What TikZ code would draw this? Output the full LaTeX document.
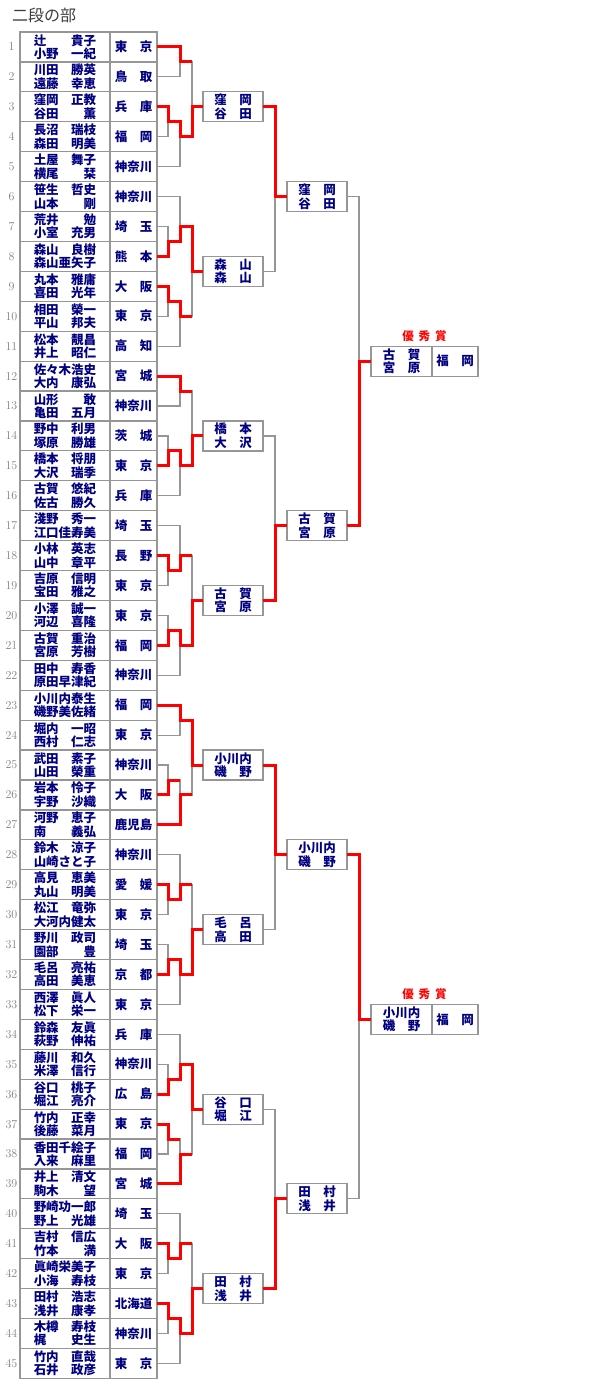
\documentclass[tikz,border=0pt]{standalone}
\usepackage{fontspec}
\newfontfamily\jp{Noto Sans CJK JP}
\usetikzlibrary{positioning,calc}
\definecolor{navy}{RGB}{0,0,128}
\definecolor{rule}{RGB}{150,150,150}
\definecolor{numgray}{RGB}{128,128,128}
\definecolor{win}{RGB}{255,0,0}

\begin{document}
\begin{tikzpicture}[x=1pt,y=-1pt,
  namecell/.style={draw=rule,line width=1.2pt,minimum width=90pt,minimum height=29.92pt,inner sep=0pt,outer sep=0pt,align=center,text=navy,font=\jp\bfseries\fontsize{12.5}{13.4}\selectfont},
  prefcell/.style={draw=rule,line width=1.2pt,minimum width=47pt,minimum height=29.92pt,inner sep=0pt,outer sep=0pt,text=navy,font=\jp\bfseries\fontsize{12.5}{13.4}\selectfont},
  numlab/.style={text=numgray,inner sep=0pt,font=\fontsize{12}{12}\selectfont},
  rbox/.style={draw=rule,line width=1.2pt,minimum width=60pt,minimum height=30pt,inner sep=0pt,outer sep=0pt,align=center,text=navy,font=\jp\bfseries\fontsize{12.5}{13.4}\selectfont},
  topbox/.style={rbox,minimum width=61pt},
  toppref/.style={rbox,minimum width=46pt},
  prize/.style={text=win,inner sep=0pt,font=\jp\bfseries\fontsize{11.5}{11.5}\selectfont},
  gline/.style={draw=rule,line width=1.2pt},
  rline/.style={draw=win,line width=3pt,line join=miter}]
\useasboundingbox (0,0) rectangle (600,1390);

\node[anchor=west,inner sep=0pt,text={rgb,255:red,60;green,60;blue,60},font=\jp\fontsize{16}{16}\selectfont] (title) at (12,15) {二段の部};

% entries
\node[namecell] (n1) at (65,46.96) {辻　　貴子\\小野　一紀}; \node[prefcell, right=0pt of n1] (p1) {東　京}; \node[numlab] (k1) at ($(n1.west)+(-8.5pt,0)$) {1};
\node[namecell, below=0pt of n1] (n2) {川田　勝英\\遠藤　幸恵}; \node[prefcell, right=0pt of n2] (p2) {鳥　取}; \node[numlab] (k2) at ($(n2.west)+(-8.5pt,0)$) {2};
\node[namecell, below=0pt of n2] (n3) {窪岡　正教\\谷田　　薫}; \node[prefcell, right=0pt of n3] (p3) {兵　庫}; \node[numlab] (k3) at ($(n3.west)+(-8.5pt,0)$) {3};
\node[namecell, below=0pt of n3] (n4) {長沼　瑞枝\\森田　明美}; \node[prefcell, right=0pt of n4] (p4) {福　岡}; \node[numlab] (k4) at ($(n4.west)+(-8.5pt,0)$) {4};
\node[namecell, below=0pt of n4] (n5) {土屋　舞子\\横尾　　栞}; \node[prefcell, right=0pt of n5] (p5) {神奈川}; \node[numlab] (k5) at ($(n5.west)+(-8.5pt,0)$) {5};
\node[namecell, below=0pt of n5] (n6) {笹生　哲史\\山本　　剛}; \node[prefcell, right=0pt of n6] (p6) {神奈川}; \node[numlab] (k6) at ($(n6.west)+(-8.5pt,0)$) {6};
\node[namecell, below=0pt of n6] (n7) {荒井　　勉\\小室　充男}; \node[prefcell, right=0pt of n7] (p7) {埼　玉}; \node[numlab] (k7) at ($(n7.west)+(-8.5pt,0)$) {7};
\node[namecell, below=0pt of n7] (n8) {森山　良樹\\森山亜矢子}; \node[prefcell, right=0pt of n8] (p8) {熊　本}; \node[numlab] (k8) at ($(n8.west)+(-8.5pt,0)$) {8};
\node[namecell, below=0pt of n8] (n9) {丸本　雅庸\\喜田　光年}; \node[prefcell, right=0pt of n9] (p9) {大　阪}; \node[numlab] (k9) at ($(n9.west)+(-8.5pt,0)$) {9};
\node[namecell, below=0pt of n9] (n10) {相田　榮一\\平山　邦夫}; \node[prefcell, right=0pt of n10] (p10) {東　京}; \node[numlab] (k10) at ($(n10.west)+(-8.5pt,0)$) {10};
\node[namecell, below=0pt of n10] (n11) {松本　靚昌\\井上　昭仁}; \node[prefcell, right=0pt of n11] (p11) {高　知}; \node[numlab] (k11) at ($(n11.west)+(-8.5pt,0)$) {11};
\node[namecell, below=0pt of n11] (n12) {佐々木浩史\\大内　康弘}; \node[prefcell, right=0pt of n12] (p12) {宮　城}; \node[numlab] (k12) at ($(n12.west)+(-8.5pt,0)$) {12};
\node[namecell, below=0pt of n12] (n13) {山形　　敢\\亀田　五月}; \node[prefcell, right=0pt of n13] (p13) {神奈川}; \node[numlab] (k13) at ($(n13.west)+(-8.5pt,0)$) {13};
\node[namecell, below=0pt of n13] (n14) {野中　利男\\塚原　勝雄}; \node[prefcell, right=0pt of n14] (p14) {茨　城}; \node[numlab] (k14) at ($(n14.west)+(-8.5pt,0)$) {14};
\node[namecell, below=0pt of n14] (n15) {橋本　将朋\\大沢　瑞季}; \node[prefcell, right=0pt of n15] (p15) {東　京}; \node[numlab] (k15) at ($(n15.west)+(-8.5pt,0)$) {15};
\node[namecell, below=0pt of n15] (n16) {古賀　悠紀\\佐古　勝久}; \node[prefcell, right=0pt of n16] (p16) {兵　庫}; \node[numlab] (k16) at ($(n16.west)+(-8.5pt,0)$) {16};
\node[namecell, below=0pt of n16] (n17) {淺野　秀一\\江口佳寿美}; \node[prefcell, right=0pt of n17] (p17) {埼　玉}; \node[numlab] (k17) at ($(n17.west)+(-8.5pt,0)$) {17};
\node[namecell, below=0pt of n17] (n18) {小林　英志\\山中　章平}; \node[prefcell, right=0pt of n18] (p18) {長　野}; \node[numlab] (k18) at ($(n18.west)+(-8.5pt,0)$) {18};
\node[namecell, below=0pt of n18] (n19) {吉原　信明\\宝田　雅之}; \node[prefcell, right=0pt of n19] (p19) {東　京}; \node[numlab] (k19) at ($(n19.west)+(-8.5pt,0)$) {19};
\node[namecell, below=0pt of n19] (n20) {小澤　誠一\\河辺　喜隆}; \node[prefcell, right=0pt of n20] (p20) {東　京}; \node[numlab] (k20) at ($(n20.west)+(-8.5pt,0)$) {20};
\node[namecell, below=0pt of n20] (n21) {古賀　重治\\宮原　芳樹}; \node[prefcell, right=0pt of n21] (p21) {福　岡}; \node[numlab] (k21) at ($(n21.west)+(-8.5pt,0)$) {21};
\node[namecell, below=0pt of n21] (n22) {田中　寿香\\原田早津紀}; \node[prefcell, right=0pt of n22] (p22) {神奈川}; \node[numlab] (k22) at ($(n22.west)+(-8.5pt,0)$) {22};
\node[namecell, below=0pt of n22] (n23) {小川内泰生\\磯野美佐緒}; \node[prefcell, right=0pt of n23] (p23) {福　岡}; \node[numlab] (k23) at ($(n23.west)+(-8.5pt,0)$) {23};
\node[namecell, below=0pt of n23] (n24) {堀内　一昭\\西村　仁志}; \node[prefcell, right=0pt of n24] (p24) {東　京}; \node[numlab] (k24) at ($(n24.west)+(-8.5pt,0)$) {24};
\node[namecell, below=0pt of n24] (n25) {武田　素子\\山田　榮重}; \node[prefcell, right=0pt of n25] (p25) {神奈川}; \node[numlab] (k25) at ($(n25.west)+(-8.5pt,0)$) {25};
\node[namecell, below=0pt of n25] (n26) {岩本　怜子\\宇野　沙織}; \node[prefcell, right=0pt of n26] (p26) {大　阪}; \node[numlab] (k26) at ($(n26.west)+(-8.5pt,0)$) {26};
\node[namecell, below=0pt of n26] (n27) {河野　恵子\\南　　義弘}; \node[prefcell, right=0pt of n27] (p27) {鹿児島}; \node[numlab] (k27) at ($(n27.west)+(-8.5pt,0)$) {27};
\node[namecell, below=0pt of n27] (n28) {鈴木　涼子\\山崎さと子}; \node[prefcell, right=0pt of n28] (p28) {神奈川}; \node[numlab] (k28) at ($(n28.west)+(-8.5pt,0)$) {28};
\node[namecell, below=0pt of n28] (n29) {高見　恵美\\丸山　明美}; \node[prefcell, right=0pt of n29] (p29) {愛　媛}; \node[numlab] (k29) at ($(n29.west)+(-8.5pt,0)$) {29};
\node[namecell, below=0pt of n29] (n30) {松江　竜弥\\大河内健太}; \node[prefcell, right=0pt of n30] (p30) {東　京}; \node[numlab] (k30) at ($(n30.west)+(-8.5pt,0)$) {30};
\node[namecell, below=0pt of n30] (n31) {野川　政司\\園部　　豊}; \node[prefcell, right=0pt of n31] (p31) {埼　玉}; \node[numlab] (k31) at ($(n31.west)+(-8.5pt,0)$) {31};
\node[namecell, below=0pt of n31] (n32) {毛呂　亮祐\\高田　美恵}; \node[prefcell, right=0pt of n32] (p32) {京　都}; \node[numlab] (k32) at ($(n32.west)+(-8.5pt,0)$) {32};
\node[namecell, below=0pt of n32] (n33) {西澤　眞人\\松下　栄一}; \node[prefcell, right=0pt of n33] (p33) {東　京}; \node[numlab] (k33) at ($(n33.west)+(-8.5pt,0)$) {33};
\node[namecell, below=0pt of n33] (n34) {鈴森　友眞\\萩野　伸祐}; \node[prefcell, right=0pt of n34] (p34) {兵　庫}; \node[numlab] (k34) at ($(n34.west)+(-8.5pt,0)$) {34};
\node[namecell, below=0pt of n34] (n35) {藤川　和久\\米澤　信行}; \node[prefcell, right=0pt of n35] (p35) {神奈川}; \node[numlab] (k35) at ($(n35.west)+(-8.5pt,0)$) {35};
\node[namecell, below=0pt of n35] (n36) {谷口　桃子\\堀江　亮介}; \node[prefcell, right=0pt of n36] (p36) {広　島}; \node[numlab] (k36) at ($(n36.west)+(-8.5pt,0)$) {36};
\node[namecell, below=0pt of n36] (n37) {竹内　正幸\\後藤　菜月}; \node[prefcell, right=0pt of n37] (p37) {東　京}; \node[numlab] (k37) at ($(n37.west)+(-8.5pt,0)$) {37};
\node[namecell, below=0pt of n37] (n38) {香田千絵子\\入来　麻里}; \node[prefcell, right=0pt of n38] (p38) {福　岡}; \node[numlab] (k38) at ($(n38.west)+(-8.5pt,0)$) {38};
\node[namecell, below=0pt of n38] (n39) {井上　清文\\駒木　　望}; \node[prefcell, right=0pt of n39] (p39) {宮　城}; \node[numlab] (k39) at ($(n39.west)+(-8.5pt,0)$) {39};
\node[namecell, below=0pt of n39] (n40) {野崎功一郎\\野上　光雄}; \node[prefcell, right=0pt of n40] (p40) {埼　玉}; \node[numlab] (k40) at ($(n40.west)+(-8.5pt,0)$) {40};
\node[namecell, below=0pt of n40] (n41) {吉村　信広\\竹本　　満}; \node[prefcell, right=0pt of n41] (p41) {大　阪}; \node[numlab] (k41) at ($(n41.west)+(-8.5pt,0)$) {41};
\node[namecell, below=0pt of n41] (n42) {眞崎栄美子\\小海　寿枝}; \node[prefcell, right=0pt of n42] (p42) {東　京}; \node[numlab] (k42) at ($(n42.west)+(-8.5pt,0)$) {42};
\node[namecell, below=0pt of n42] (n43) {田村　浩志\\浅井　康孝}; \node[prefcell, right=0pt of n43] (p43) {北海道}; \node[numlab] (k43) at ($(n43.west)+(-8.5pt,0)$) {43};
\node[namecell, below=0pt of n43] (n44) {木樽　寿枝\\梶　　史生}; \node[prefcell, right=0pt of n44] (p44) {神奈川}; \node[numlab] (k44) at ($(n44.west)+(-8.5pt,0)$) {44};
\node[namecell, below=0pt of n44] (n45) {竹内　直哉\\石井　政彦}; \node[prefcell, right=0pt of n45] (p45) {東　京}; \node[numlab] (k45) at ($(n45.west)+(-8.5pt,0)$) {45};

% block 1-5
\coordinate (a12) at ($(p1.east)!.5!(p2.east)+(23pt,0)$);
\coordinate (a34) at ($(p3.east)!.5!(p4.east)+(11pt,0)$);
\coordinate (a35) at ($(p4.east)+(23pt,0)$);
\coordinate (a15) at ($(p3.east)+(35pt,0)$);
\node[rbox, right=11pt of a15] (rA) {窪　岡\\谷　田};
% block 6-11
\coordinate (b78) at ($(p7.east)!.5!(p8.east)+(11pt,0)$);
\coordinate (b68) at ($(p7.east)+(23pt,0)$);
\coordinate (b910) at ($(p9.east)!.5!(p10.east)+(11pt,0)$);
\coordinate (b911) at ($(p10.east)+(23pt,0)$);
\coordinate (b611) at ($(p8.east)!.5!(p9.east)+(35pt,0)$);
\node[rbox, right=11pt of b611] (rB) {森　山\\森　山};
% block 12-16
\coordinate (c1213) at ($(p12.east)!.5!(p13.east)+(23pt,0)$);
\coordinate (c1415) at ($(p14.east)!.5!(p15.east)+(11pt,0)$);
\coordinate (c1416) at ($(p15.east)+(23pt,0)$);
\coordinate (c1216) at ($(p14.east)+(35pt,0)$);
\node[rbox, right=11pt of c1216] (rC) {橋　本\\大　沢};
% block 17-22
\coordinate (d1819) at ($(p18.east)!.5!(p19.east)+(11pt,0)$);
\coordinate (d1719) at ($(p18.east)+(23pt,0)$);
\coordinate (d2021) at ($(p20.east)!.5!(p21.east)+(11pt,0)$);
\coordinate (d2022) at ($(p21.east)+(23pt,0)$);
\coordinate (d1722) at ($(p19.east)!.5!(p20.east)+(35pt,0)$);
\node[rbox, right=11pt of d1722] (rD) {古　賀\\宮　原};
% block 23-27
\coordinate (e2324) at ($(p23.east)!.5!(p24.east)+(23pt,0)$);
\coordinate (e2526) at ($(p25.east)!.5!(p26.east)+(11pt,0)$);
\coordinate (e2527) at ($(p26.east)+(23pt,0)$);
\coordinate (e2327) at ($(p25.east)+(35pt,0)$);
\node[rbox, right=11pt of e2327] (rE) {小川内\\磯　野};
% block 28-33
\coordinate (f2930) at ($(p29.east)!.5!(p30.east)+(11pt,0)$);
\coordinate (f2830) at ($(p29.east)+(23pt,0)$);
\coordinate (f3132) at ($(p31.east)!.5!(p32.east)+(11pt,0)$);
\coordinate (f3133) at ($(p32.east)+(23pt,0)$);
\coordinate (f2833) at ($(p30.east)!.5!(p31.east)+(35pt,0)$);
\node[rbox, right=11pt of f2833] (rF) {毛　呂\\高　田};
% block 34-39
\coordinate (g3536) at ($(p35.east)!.5!(p36.east)+(11pt,0)$);
\coordinate (g3436) at ($(p35.east)+(23pt,0)$);
\coordinate (g3738) at ($(p37.east)!.5!(p38.east)+(11pt,0)$);
\coordinate (g3739) at ($(p38.east)+(23pt,0)$);
\coordinate (g3439) at ($(p36.east)!.5!(p37.east)+(35pt,0)$);
\node[rbox, right=11pt of g3439] (rG) {谷　口\\堀　江};
% block 40-45
\coordinate (h4142) at ($(p41.east)!.5!(p42.east)+(11pt,0)$);
\coordinate (h4042) at ($(p41.east)+(23pt,0)$);
\coordinate (h4344) at ($(p43.east)!.5!(p44.east)+(11pt,0)$);
\coordinate (h4345) at ($(p44.east)+(23pt,0)$);
\coordinate (h4045) at ($(p42.east)!.5!(p43.east)+(35pt,0)$);
\node[rbox, right=11pt of h4045] (rH) {田　村\\浅　井};

% quarter finals
\coordinate (sA) at ($(rA.east |- p6.east)+(12pt,0)$);
\coordinate (sB) at ($(rC.east |- p17.east)+(12pt,0)$);
\coordinate (sC) at ($(rE.east |- p28.east)+(12pt,0)$);
\coordinate (sD) at ($(rG.east |- p39.east)!.5!(rG.east |- p40.east)+(12pt,0)$);
\node[rbox, right=12pt of sA] (qA) {窪　岡\\谷　田};
\node[rbox, right=12pt of sB] (qB) {古　賀\\宮　原};
\node[rbox, right=12pt of sC] (qC) {小川内\\磯　野};
\node[rbox, right=12pt of sD] (qD) {田　村\\浅　井};

% winners
\coordinate (tA) at ($(qA.east |- p11.east)!.5!(qA.east |- p12.east)+(12pt,0)$);
\coordinate (tB) at ($(qC.east |- p33.east)!.5!(qC.east |- p34.east)+(12pt,0)$);
\node[topbox, right=12pt of tA] (wA) {古　賀\\宮　原};
\node[toppref, right=0pt of wA] (wA2) {福　岡};
\node[topbox, right=12pt of tB] (wB) {小川内\\磯　野};
\node[toppref, right=0pt of wB] (wB2) {福　岡};
\coordinate (cA) at ($(wA.north west)!.5!(wA2.north east)$);
\coordinate (cB) at ($(wB.north west)!.5!(wB2.north east)$);
\node[prize, above=4pt of cA] (yA) {優\hspace{5pt}秀\hspace{5pt}賞};
\node[prize, above=4pt of cB] (yB) {優\hspace{5pt}秀\hspace{5pt}賞};

% losing lines
\draw[gline] (p2.east) -| (a12); \draw[gline] (p4.east) -| (a34); \draw[gline] (p5.east) -| (a35); \draw[gline] (a12) -| (a15);
\draw[gline] (p7.east) -| (b78); \draw[gline] (p6.east) -| (b68); \draw[gline] (p10.east) -| (b910); \draw[gline] (p11.east) -| (b911); \draw[gline] (b911) -| (b611);
\draw[gline] (p13.east) -| (c1213); \draw[gline] (p14.east) -| (c1415); \draw[gline] (p16.east) -| (c1416); \draw[gline] (c1213) -| (c1216);
\draw[gline] (p19.east) -| (d1819); \draw[gline] (p17.east) -| (d1719); \draw[gline] (p20.east) -| (d2021); \draw[gline] (p22.east) -| (d2022); \draw[gline] (d1719) -| (d1722);
\draw[gline] (p24.east) -| (e2324); \draw[gline] (p25.east) -| (e2526); \draw[gline] (e2526) -| (e2527); \draw[gline] (e2527) -| (e2327);
\draw[gline] (p30.east) -| (f2930); \draw[gline] (p28.east) -| (f2830); \draw[gline] (p31.east) -| (f3132); \draw[gline] (p33.east) -| (f3133); \draw[gline] (f2830) -| (f2833);
\draw[gline] (p35.east) -| (g3536); \draw[gline] (p34.east) -| (g3436); \draw[gline] (p38.east) -| (g3738); \draw[gline] (g3738) -| (g3739); \draw[gline] (g3739) -| (g3439);
\draw[gline] (p42.east) -| (h4142); \draw[gline] (p40.east) -| (h4042); \draw[gline] (p44.east) -| (h4344); \draw[gline] (p45.east) -| (h4345); \draw[gline] (h4042) -| (h4045);
\draw[gline] (rB.east) -| (sA); \draw[gline] (rC.east) -| (sB); \draw[gline] (rF.east) -| (sC); \draw[gline] (rG.east) -| (sD);
\draw[gline] (qA.east) -| (tA); \draw[gline] (qD.east) -| (tB);

% winning lines
\draw[rline] (p1.east) -| (a12) -- (a12 -| a15);
\draw[rline] (p3.east) -| (a34) -| (a35) -| (a15) -- (rA.west);
\draw[rline] (p8.east) -| (b78) -| (b68) -| (b611) -- (rB.west);
\draw[rline] (p9.east) -| (b910) -| (b911) -- (b911 -| b611);
\draw[rline] (p12.east) -| (c1213) -- (c1213 -| c1216);
\draw[rline] (p15.east) -| (c1415) -| (c1416) -| (c1216) -- (rC.west);
\draw[rline] (p18.east) -| (d1819) -| (d1719) -- (d1719 -| d1722);
\draw[rline] (p21.east) -| (d2021) -| (d2022) -| (d1722) -- (rD.west);
\draw[rline] (p23.east) -| (e2324) -| (e2327) -- (rE.west);
\draw[rline] (p26.east) -| (e2526) -- (e2526 -| e2527);
\draw[rline] (p27.east) -| (e2527) -- (e2527 -| e2327);
\draw[rline] (p29.east) -| (f2930) -| (f2830) -- (f2830 -| f2833);
\draw[rline] (p32.east) -| (f3132) -| (f3133) -| (f2833) -- (rF.west);
\draw[rline] (p36.east) -| (g3536) -| (g3436) -| (g3439) -- (rG.west);
\draw[rline] (p37.east) -| (g3738) -- (g3738 -| g3739);
\draw[rline] (p39.east) -| (g3739) -- (g3739 -| g3439);
\draw[rline] (p41.east) -| (h4142) -| (h4042) -- (h4042 -| h4045);
\draw[rline] (p43.east) -| (h4344) -| (h4345) -| (h4045) -- (rH.west);
\draw[rline] (rA.east) -| (sA) -- (qA.west);
\draw[rline] (rD.east) -| (sB) -- (qB.west);
\draw[rline] (rE.east) -| (sC) -- (qC.west);
\draw[rline] (rH.east) -| (sD) -- (qD.west);
\draw[rline] (qB.east) -| (tA) -- (wA.west);
\draw[rline] (qC.east) -| (tB) -- (wB.west);
\end{tikzpicture}
\end{document}
